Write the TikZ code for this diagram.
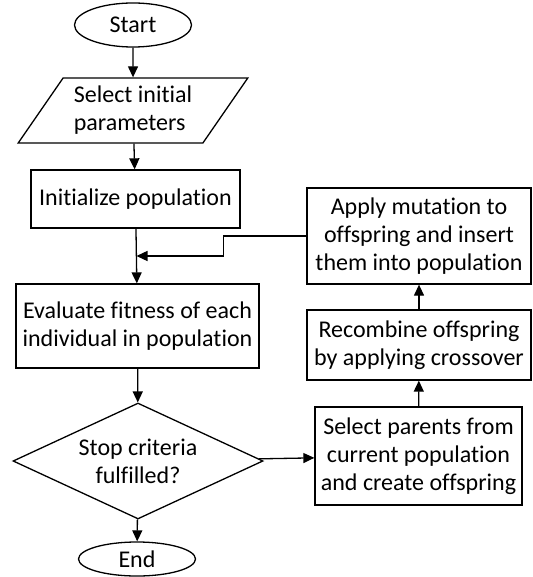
\documentclass[tikz,border=0pt]{standalone}
\usepackage{fontspec}
\setmainfont{Carlito}[Ligatures={NoCommon}]
\usetikzlibrary{shapes.geometric,arrows.meta,calc}
\tikzset{
every picture/.style={
line width=1.3pt
}}

\begin{document}
\begin{tikzpicture}[x=1pt, y=-1pt,
font=\fontsize{24}{28}\selectfont,
terminal/.style = {ellipse, draw=black, minimum width=117pt, inner sep=0pt},
io/.style = {trapezium, draw=black, trapezium left angle=54, trapezium right angle=126,
  trapezium stretches=true, minimum width=230pt, minimum height=65pt, align=left},
block/.style = {rectangle, draw=black, align=center, inner sep=0pt},
decision/.style = {diamond, draw=black, shape aspect=2.15, minimum width=250pt, minimum height=116pt, inner sep=0pt, align=center},
arrow/.style = {-{Triangle[length=11pt,width=10pt]}}]

\useasboundingbox (0,0) rectangle (532,577);

% main column
\node[terminal, minimum height=44pt] (start) at (133,25) {Start};
\node[io] (params) at (133,110.5) {Select initial\\parameters};
\node[block, minimum width=209pt, minimum height=58pt] (init) at (135.5,199) {Initialize population};
\node[block, minimum width=243pt, minimum height=84pt] (eval) at (137.5,326) {Evaluate fitness of each\\individual in population};
\node[decision] (stop) at (138,461) {Stop criteria\\fulfilled?};
\node[terminal, minimum height=34pt] (end) at (137,559) {End};

% loop column
\node[block, minimum width=224pt, minimum height=96pt] (apply) at (419,236) {Apply mutation to\\offspring and insert\\them into population};
\node[block, minimum width=224pt, minimum height=70pt] (recomb) at (419,345) {Recombine offspring\\by applying crossover};
\node[block, minimum width=207pt, minimum height=98pt] (select) at (418.5,456) {Select parents from\\current population\\and create offspring};

\draw[arrow] (start) -- (params);
\draw[arrow] (params) -- (init);
\draw[arrow] (init) -- (eval);
\draw[arrow] (eval) -- (stop);
\draw[arrow] (stop) -- (end);
\draw[arrow] (stop) -- (select);
\draw[arrow] (select) -- (recomb);
\draw[arrow] (recomb) -- (apply);
\draw[arrow] (apply.west) -- ++(-83,0) |- ($(init.south)!0.5!(eval.north)$);
\end{tikzpicture}
\end{document}
